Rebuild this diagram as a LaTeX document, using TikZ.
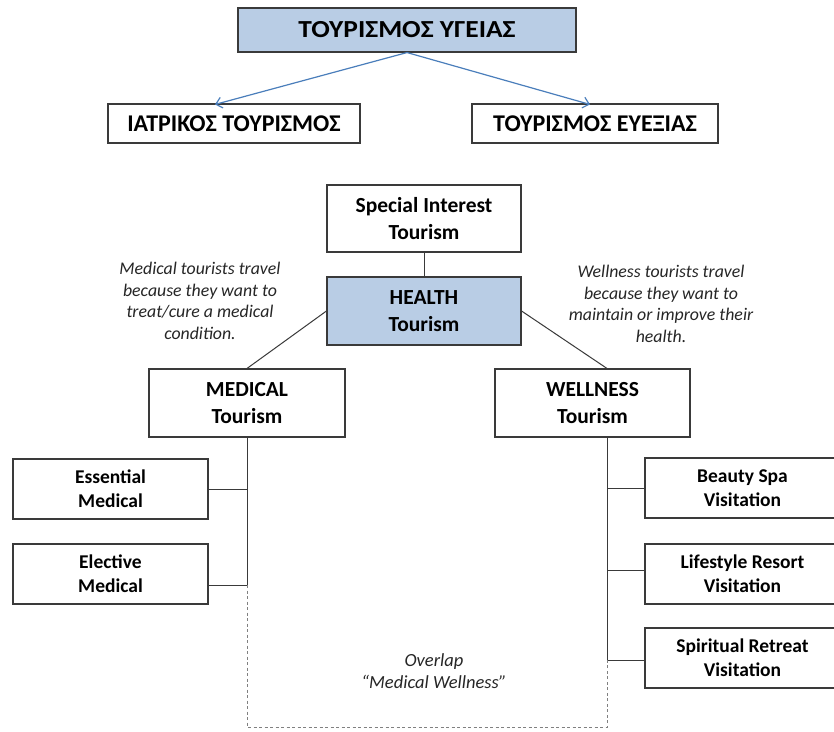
\documentclass[tikz,border=0pt]{standalone}
\usepackage{fontspec}
\setmainfont{Carlito}
\newfontfamily\widecarlito[FakeStretch=1.12]{Carlito}
\usetikzlibrary{arrows.meta}
\definecolor{boxblue}{HTML}{B9CDE5}
\definecolor{arrblue}{HTML}{4A7EBB}
\definecolor{linegray}{HTML}{3A3A3A}
\begin{document}
\begin{tikzpicture}[x=1pt,y=-1pt,
  box/.style={draw=linegray,line width=1.1pt,fill=white,inner sep=0pt,align=center},
  greekbig/.style={box,font=\widecarlito\fontsize{24.5}{28}\selectfont\bfseries},
  greekmid/.style={box,font=\fontsize{24}{28}\selectfont\bfseries},
  tbox/.style={box,font=\fontsize{21.5}{27}\selectfont\bfseries},
  sbox/.style={box,font=\fontsize{19.5}{24}\selectfont\bfseries},
  note/.style={align=center,font=\fontsize{17.8}{21.7}\selectfont\itshape,text=black!85},
  conn/.style={draw=linegray,line width=1pt},
  dconn/.style={draw=gray,line width=0.9pt,dash pattern=on 3pt off 2.5pt},
  barr/.style={draw=arrblue,line width=1.2pt,-{Straight Barb[length=6pt,width=11pt]}}
]
\useasboundingbox (0,0) rectangle (834,731);
\fill[white] (0,0) rectangle (834,731);
% top Greek part
\node[greekbig,fill=boxblue,minimum width=338,minimum height=44] (top) at (407,30) {ΤΟΥΡΙΣΜΟΣ ΥΓΕΙΑΣ};
\node[greekmid,minimum width=252,minimum height=39] (iatr) at (234,123.5) {ΙΑΤΡΙΚΟΣ ΤΟΥΡΙΣΜΟΣ};
\node[greekmid,minimum width=246,minimum height=39] (euex) at (595,123.5) {ΤΟΥΡΙΣΜΟΣ ΕΥΕΞΙΑΣ};
\draw[barr] (top.south) -- ([xshift=-19pt,yshift=-1pt]iatr.north);
\draw[barr] (top.south) -- ([xshift=-5pt,yshift=-1pt]euex.north);
% hierarchy
\node[tbox,minimum width=194,minimum height=67] (sit) at (424,218.5) {Special Interest\\Tourism};
\node[tbox,fill=boxblue,minimum width=194,minimum height=68] (health) at (424,311) {HEALTH\\Tourism};
\node[tbox,minimum width=196,minimum height=68] (medical) at (247,403) {MEDICAL\\Tourism};
\node[tbox,minimum width=195,minimum height=68] (wellness) at (592.5,403) {WELLNESS\\Tourism};
\draw[conn] (sit.south) -- (health.north);
\coordinate (mL) at (247,585);
\coordinate (wR) at (607,660);
\coordinate (mB) at (247,727);
\coordinate (wB) at (607,727);
\draw[conn] (health.west) -- (medical.north);
\draw[conn] (health.east) -- (wellness.north -| wR);
\node[note] (mnote) at (200,301) {Medical tourists travel\\because they want to\\treat/cure a medical\\condition.};
\node[note] (wnote) at (661,304) {Wellness tourists travel\\because they want to\\maintain or improve their\\health.};
% left boxes
\node[sbox,minimum width=195,minimum height=60] (ess) at (110.5,489) {Essential\\Medical};
\node[sbox,minimum width=195,minimum height=60] (ele) at (110.5,574) {Elective\\Medical};
% right boxes
\node[sbox,minimum width=195,minimum height=60] (beauty) at (742.5,488) {Beauty Spa\\Visitation};
\node[sbox,minimum width=195,minimum height=60] (life) at (742.5,574) {Lifestyle Resort\\Visitation};
\node[sbox,minimum width=195,minimum height=60] (spir) at (742.5,658) {Spiritual Retreat\\Visitation};
% vertical trunks
\draw[conn] (medical.south) -- (mL);
\draw[conn] (wellness.south -| wR) -- (wR);
\draw[conn] (ess.east) -- (ess.east -| mL);
\draw[conn] (ele.east |- mL) -- (mL);
\draw[conn] (beauty.west) -- (beauty.west -| wR);
\draw[conn] ([yshift=4pt]life.west) -- ([yshift=4pt]life.west -| wR);
\draw[conn] (spir.west |- wR) -- (wR);
% overlap region
\draw[dconn] (mL) -- (mB) -- (wB) -- (wR);
\node[note,font=\fontsize{18.5}{22.5}\selectfont\itshape] (overlap) at (434,671) {Overlap\\“Medical Wellness”};
\end{tikzpicture}
\end{document}
